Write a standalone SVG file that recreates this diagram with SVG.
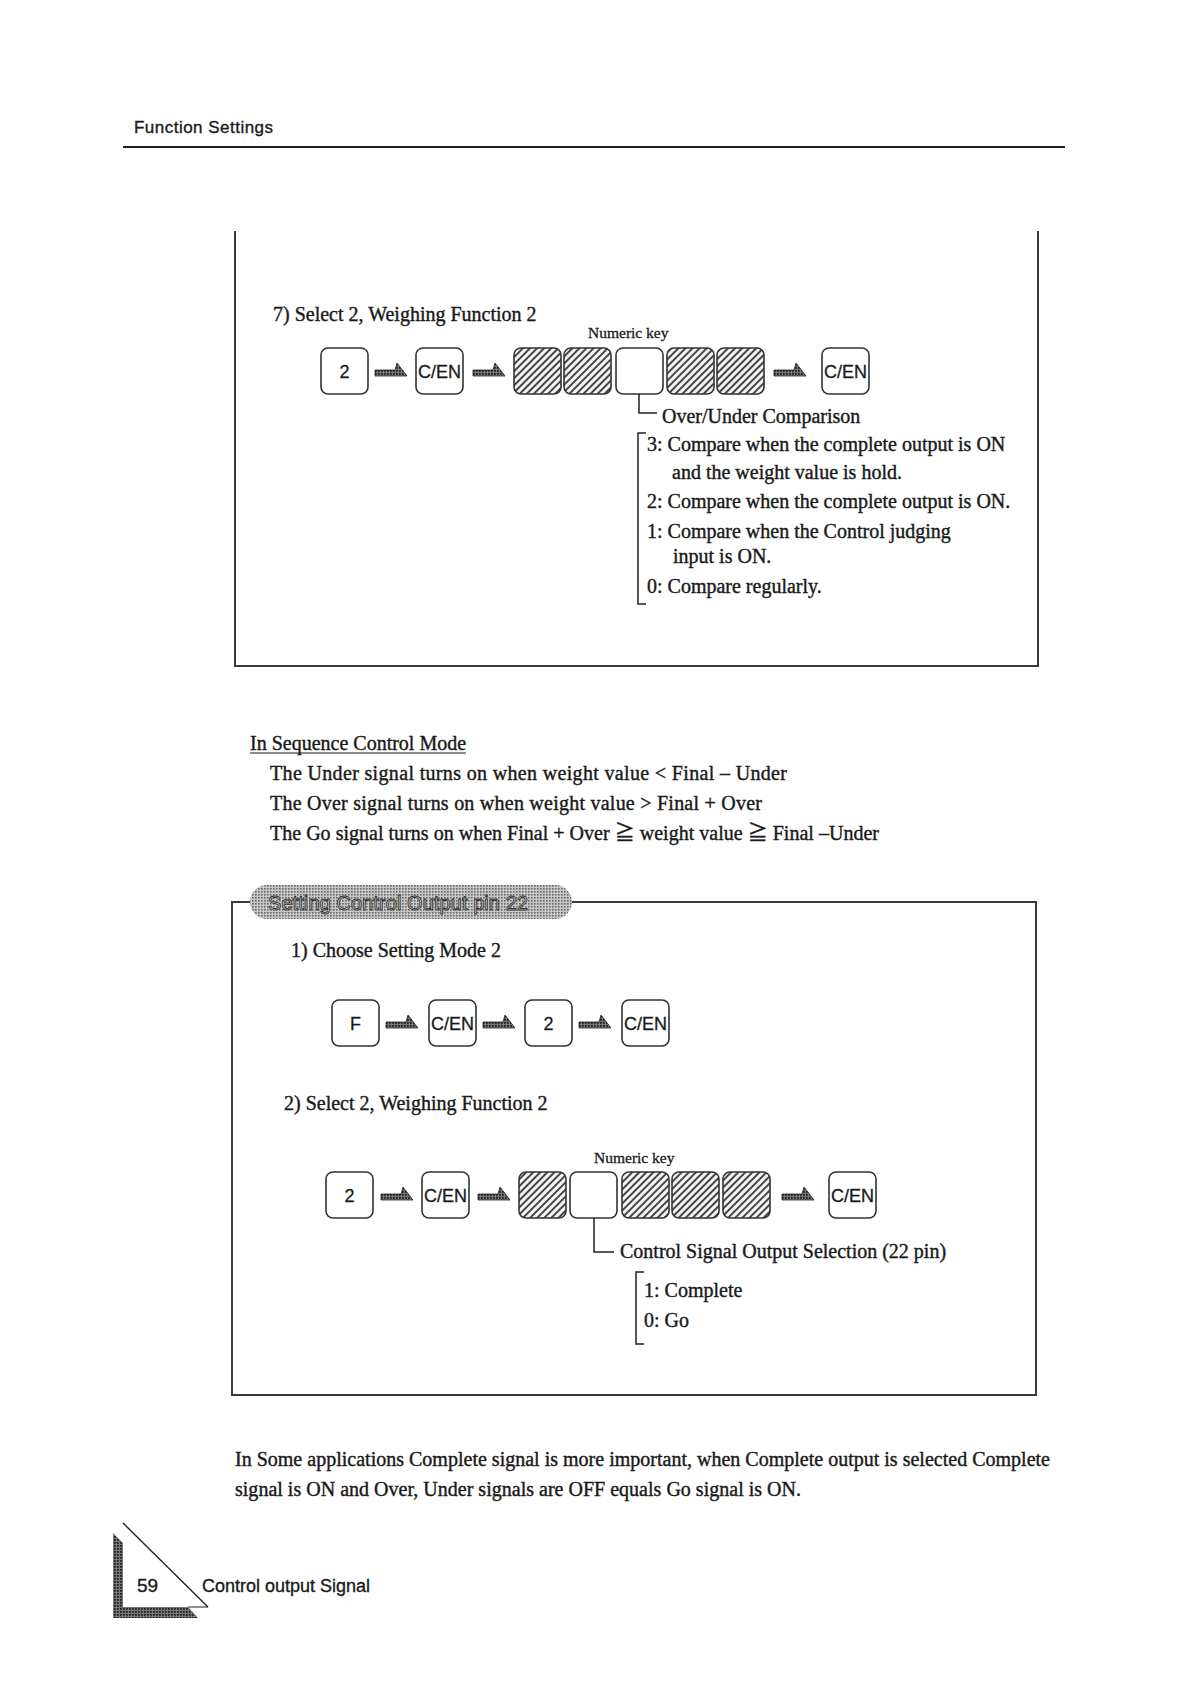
<svg xmlns="http://www.w3.org/2000/svg" width="1186" height="1682" viewBox="0 0 1186 1682">
<defs>
<pattern id="hatch" width="5" height="5" patternUnits="userSpaceOnUse" patternTransform="rotate(45)">
<rect width="5" height="5" fill="#f4f4f4"/>
<line x1="1" y1="0" x2="1" y2="5" stroke="#333" stroke-width="1.8"/>
</pattern>
<pattern id="dots" width="3" height="3" patternUnits="userSpaceOnUse">
<rect width="3" height="3" fill="#c8c8c8"/>
<rect x="0" y="0" width="1.6" height="1.6" fill="#666"/>
</pattern>
<pattern id="dotsdark" width="3" height="3" patternUnits="userSpaceOnUse">
<rect width="3" height="3" fill="#777"/>
<rect x="0" y="0" width="1.8" height="1.8" fill="#222"/>
</pattern>
<path id="arr" d="M0,-6 L20,-6 L22,-13 L32,0 L0,0 Z"/>
</defs>
<style>
.sans{font-family:"Liberation Sans",Arial,sans-serif;fill:#1a1a1a;stroke:#1a1a1a;stroke-width:0.35}
.serif{font-family:"Liberation Serif","Times New Roman","DejaVu Serif","Noto Sans CJK JP",serif;fill:#1a1a1a;font-size:20px;stroke:#1a1a1a;stroke-width:0.4}
.key{fill:#fff;stroke:#333;stroke-width:1.6}
.hkey{fill:url(#hatch);stroke:#333;stroke-width:1.6}
.klab{font-family:"Liberation Sans",Arial,sans-serif;font-size:18px;fill:#1a1a1a;text-anchor:middle;stroke:#1a1a1a;stroke-width:0.3}
.frame{fill:none;stroke:#3a3a3a;stroke-width:2}
.conn{fill:none;stroke:#222;stroke-width:1.5}
.arrow{fill:url(#dotsdark);stroke:#222;stroke-width:0.8}
.small{font-size:15.5px;stroke-width:0.3}
</style>

<g id="header">
<text class="sans" x="134" y="133" font-size="17" textLength="139">Function Settings</text>
<line x1="123" y1="147" x2="1065" y2="147" stroke="#222" stroke-width="2.2"/>
</g>

<g id="box1">
<path class="frame" d="M235,231 L235,666 L1038,666 L1038,231"/>
<text class="serif" x="273" y="321">7) Select 2, Weighing Function 2</text>
<text class="serif small" x="588" y="338">Numeric key</text>
</g>

<g id="row1">
<g id="r1k1"><rect class="key" x="321" y="348" width="47" height="46" rx="7"/><text class="klab" x="344.5" y="378">2</text></g>
<g id="r1k2"><rect class="key" x="416" y="348" width="47" height="46" rx="7"/><text class="klab" x="439.5" y="378">C/EN</text></g>
<g id="r1h1"><rect class="hkey" x="514" y="348" width="47" height="46" rx="7"/></g>
<g id="r1h2"><rect class="hkey" x="564" y="348" width="47" height="46" rx="7"/></g>
<g id="r1blank"><rect class="key" x="616" y="348" width="47" height="46" rx="7"/></g>
<g id="r1h3"><rect class="hkey" x="667" y="348" width="47" height="46" rx="7"/></g>
<g id="r1h4"><rect class="hkey" x="717" y="348" width="47" height="46" rx="7"/></g>
<g id="r1k3"><rect class="key" x="822" y="348" width="47" height="46" rx="7"/><text class="klab" x="845.5" y="378">C/EN</text></g>
</g>

<g id="opt1">
<text class="serif" x="662" y="423">Over/Under Comparison</text>
<path class="conn" d="M646,433 L638,433 L638,604 L646,604"/>
<text class="serif" x="647" y="451">3: Compare when the complete output is ON</text>
<text class="serif" x="672" y="479">and the weight value is hold.</text>
<text class="serif" x="647" y="508">2: Compare when the complete output is ON.</text>
<text class="serif" x="647" y="538">1: Compare when the Control judging</text>
<text class="serif" x="673" y="563">input is ON.</text>
<text class="serif" x="647" y="593">0: Compare regularly.</text>
</g>

<g id="seq">
<text class="serif" x="250" y="750">In Sequence Control Mode</text>
<line x1="250" y1="753" x2="466" y2="753" stroke="#1a1a1a" stroke-width="1.2"/>
<text class="serif" x="270" y="780" textLength="517">The Under signal  turns on when weight value &lt;  Final – Under</text>
<text class="serif" x="270" y="810" textLength="492">The Over signal  turns on when weight value &gt; Final + Over</text>
<text class="serif" x="270" y="840" textLength="609">The Go signal turns on when Final + Over ≧ weight value ≧ Final –Under</text>
</g>

<g id="box2">
<path class="frame" d="M250,902 L232,902 L232,1395 L1036,1395 L1036,902 L572,902"/>
<rect x="250" y="885" width="322" height="34" rx="17" fill="url(#dots)"/>
<text x="268" y="910" font-family="Liberation Sans,Arial,sans-serif" font-size="20" fill="#d4d4d4" stroke="#333" stroke-width="0.9" textLength="260">Setting Control Output pin 22</text>
<text class="serif" x="291" y="957">1) Choose Setting Mode 2</text>
<text class="serif" x="284" y="1110">2) Select 2, Weighing Function 2</text>
<text class="serif small" x="594" y="1163">Numeric key</text>
</g>

<g id="row2">
<g id="r2k1"><rect class="key" x="332" y="1000" width="47" height="46" rx="7"/><text class="klab" x="355.5" y="1030">F</text></g>
<g id="r2k2"><rect class="key" x="429" y="1000" width="47" height="46" rx="7"/><text class="klab" x="452.5" y="1030">C/EN</text></g>
<g id="r2k3"><rect class="key" x="525" y="1000" width="47" height="46" rx="7"/><text class="klab" x="548.5" y="1030">2</text></g>
<g id="r2k4"><rect class="key" x="622" y="1000" width="47" height="46" rx="7"/><text class="klab" x="645.5" y="1030">C/EN</text></g>
</g>

<g id="row3">
<g id="r3k1"><rect class="key" x="326" y="1172" width="47" height="46" rx="7"/><text class="klab" x="349.5" y="1202">2</text></g>
<g id="r3k2"><rect class="key" x="422" y="1172" width="47" height="46" rx="7"/><text class="klab" x="445.5" y="1202">C/EN</text></g>
<g id="r3h1"><rect class="hkey" x="519" y="1172" width="47" height="46" rx="7"/></g>
<g id="r3blank"><rect class="key" x="570" y="1172" width="47" height="46" rx="7"/></g>
<g id="r3h2"><rect class="hkey" x="622" y="1172" width="47" height="46" rx="7"/></g>
<g id="r3h3"><rect class="hkey" x="672" y="1172" width="47" height="46" rx="7"/></g>
<g id="r3h4"><rect class="hkey" x="723" y="1172" width="47" height="46" rx="7"/></g>
<g id="r3k3"><rect class="key" x="829" y="1172" width="47" height="46" rx="7"/><text class="klab" x="852.5" y="1202">C/EN</text></g>
</g>

<g id="opt2">
<text class="serif" x="620" y="1258">Control Signal Output Selection (22 pin)</text>
<path class="conn" d="M644,1272 L636,1272 L636,1344 L644,1344"/>
<text class="serif" x="644" y="1297">1: Complete</text>
<text class="serif" x="644" y="1327">0: Go</text>
</g>

<g id="connectors">
<use href="#arr" class="arrow" x="375" y="376"/>
<use href="#arr" class="arrow" x="473" y="376"/>
<use href="#arr" class="arrow" x="774" y="376"/>
<use href="#arr" class="arrow" x="386" y="1028"/>
<use href="#arr" class="arrow" x="483" y="1028"/>
<use href="#arr" class="arrow" x="579" y="1028"/>
<use href="#arr" class="arrow" x="381" y="1200"/>
<use href="#arr" class="arrow" x="478" y="1200"/>
<use href="#arr" class="arrow" x="782" y="1200"/>
<path class="conn" d="M639,394 L639,413 L657,413"/>
<path class="conn" d="M594,1218 L594,1252 L614,1252"/>
</g>

<g id="note">
<text class="serif" x="235" y="1466" textLength="815">In Some applications Complete signal is more important, when Complete output is selected Complete</text>
<text class="serif" x="235" y="1496" textLength="566">signal is ON and Over, Under signals are OFF equals Go signal is ON.</text>
</g>

<g id="footer">
<polygon points="113,1533 113,1618 198,1618 188,1607 123,1607 123,1543" fill="url(#dotsdark)"/>
<polygon points="123,1523 208,1607 123,1607" fill="#fff"/>
<line x1="123" y1="1523" x2="208" y2="1607" stroke="#222" stroke-width="1.4"/>
<line x1="188" y1="1607" x2="208" y2="1607" stroke="#222" stroke-width="1"/>
<text class="sans" x="137" y="1592" font-size="19">59</text>
<text class="sans" x="202" y="1592" font-size="18">Control output Signal</text>
</g>
</svg>
